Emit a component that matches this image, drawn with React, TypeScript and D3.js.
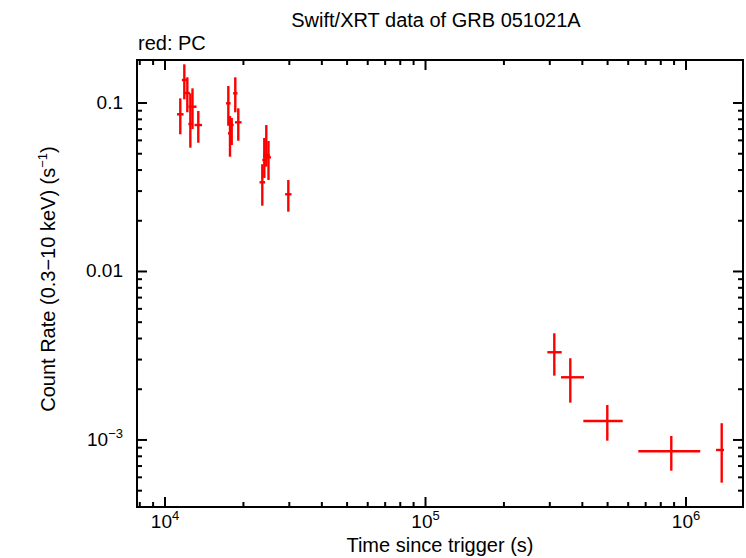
import * as d3 from 'd3';

// PC mode points: time, time range, rate, rate range
const tMid = [11445, 11860, 12180, 12510, 12750, 13420, 17500, 17760, 18030, 18610, 19110, 23630, 24050, 24480, 24960, 29740, 312200, 359600, 498700, 878000, 1371000];
const tLo = [11116, 11601, 11914, 12291, 12307, 12976, 17149, 17449, 17715, 18252, 18561, 23051, 23630, 23776, 24416, 28910, 293600, 331300, 403500, 656000, 1304000];
const tHi = [11784, 12125, 12452, 12733, 13209, 13879, 17859, 18076, 18351, 18975, 19676, 24223, 24478, 25205, 25517, 30594, 333300, 405900, 571500, 1134000, 1399000];
const rate = [0.0857, 0.1369, 0.1146, 0.0751, 0.0951, 0.074, 0.0996, 0.0661, 0.074, 0.1142, 0.0768, 0.03383, 0.0459, 0.0491, 0.0476, 0.02873, 0.003316, 0.002355, 0.0012967, 0.000857, 0.000872];
const rHi = [0.1066, 0.1697, 0.1421, 0.1142, 0.1222, 0.0897, 0.1261, 0.0837, 0.0815, 0.1421, 0.093, 0.0433, 0.062, 0.074, 0.0595, 0.0349, 0.004297, 0.003055, 0.001613, 0.001056, 0.001257];
const rLo = [0.0652, 0.1052, 0.0881, 0.0543, 0.0701, 0.0581, 0.0733, 0.048, 0.0563, 0.0881, 0.0597, 0.02457, 0.0359, 0.0419, 0.0349, 0.02264, 0.002408, 0.001665, 0.00099, 0.000657, 0.000558];

const xMajor = [1e4, 1e5, 1e6];
const xMajorExp = ['4', '5', '6'];
const yMajor = [0.1, 0.01, 0.001];

const App = () => {
  const W = 746, H = 558;
  const margin = { top: 60, right: 3, bottom: 51, left: 137 };
  const x = d3.scaleLog().domain([7806, 1.655e6]).range([margin.left, W - margin.right]);
  const y = d3.scaleLog().domain([4.0e-4, 0.18]).range([H - margin.bottom, margin.top]);
  const [x0, x1] = x.range();
  const [y0, y1] = [margin.top, H - margin.bottom];

  const minors = (dom: number[]) => {
    const out: number[] = [];
    for (let e = -6; e <= 7; e++) {
      for (let m = 2; m <= 9; m++) {
        const v = m * Math.pow(10, e);
        if (v > dom[0] && v < dom[1]) out.push(v);
      }
    }
    return out;
  };
  const xMinor = minors(x.domain());
  const yMinor = minors(y.domain());
  const font = "'Liberation Sans', Arial, sans-serif";
  const red = '#ff0000';

  return (
    <div style={{ position: 'absolute', left: 0, top: 0 }}>
      <svg width={W} height={H} style={{ display: 'block', background: '#fff' }} fontFamily={font}>
        <text x={436} y={27} fontSize={20} textAnchor="middle">Swift/XRT data of GRB 051021A</text>
        <text x={138} y={50} fontSize={20}>red: PC</text>

        {/* error bars */}
        <g stroke={red} strokeWidth={2.4}>
          {tMid.map((t, i) => (
            <g key={i}>
              <line x1={x(tLo[i])} x2={x(tHi[i])} y1={y(rate[i])} y2={y(rate[i])} />
              <line x1={x(t)} x2={x(t)} y1={y(rHi[i])} y2={y(rLo[i])} />
            </g>
          ))}
        </g>

        {/* ticks */}
        <g stroke="#000" strokeWidth={2}>
          {xMajor.map(v => (
            <g key={'xM' + v}>
              <line x1={x(v)} x2={x(v)} y1={y1} y2={y1 - 10} />
              <line x1={x(v)} x2={x(v)} y1={y0} y2={y0 + 10} />
            </g>
          ))}
          {xMinor.map(v => (
            <g key={'xm' + v}>
              <line x1={x(v)} x2={x(v)} y1={y1} y2={y1 - 5} />
              <line x1={x(v)} x2={x(v)} y1={y0} y2={y0 + 5} />
            </g>
          ))}
          {yMajor.map(v => (
            <g key={'yM' + v}>
              <line x1={x0} x2={x0 + 10} y1={y(v)} y2={y(v)} />
              <line x1={x1} x2={x1 - 10} y1={y(v)} y2={y(v)} />
            </g>
          ))}
          {yMinor.map(v => (
            <g key={'ym' + v}>
              <line x1={x0} x2={x0 + 5} y1={y(v)} y2={y(v)} />
              <line x1={x1} x2={x1 - 5} y1={y(v)} y2={y(v)} />
            </g>
          ))}
          <rect x={x0} y={y0} width={x1 - x0} height={y1 - y0} fill="none" />
        </g>

        {/* tick labels */}
        {xMajor.map((v, i) => (
          <text key={'xl' + v} x={x(v)} y={y1 + 21} fontSize={19} textAnchor="middle">
            10<tspan fontSize={13} dy={-8}>{xMajorExp[i]}</tspan>
          </text>
        ))}
        <text x={x0 - 14} y={y(0.1) + 6} fontSize={19} textAnchor="end">0.1</text>
        <text x={x0 - 14} y={y(0.01) + 6} fontSize={19} textAnchor="end">0.01</text>
        <text x={x0 - 14} y={y(0.001) + 6} fontSize={19} textAnchor="end">
          10<tspan fontSize={13} dy={-8}>−3</tspan>
        </text>

        <text x={440} y={552} fontSize={20} textAnchor="middle">Time since trigger (s)</text>
        <text transform={`translate(55,279) rotate(-90)`} fontSize={20} textAnchor="middle">
          Count Rate (0.3−10 keV) (s<tspan fontSize={13} dy={-8}>−1</tspan><tspan dy={8}>)</tspan>
        </text>
      </svg>
    </div>
  );
};

export default App;
